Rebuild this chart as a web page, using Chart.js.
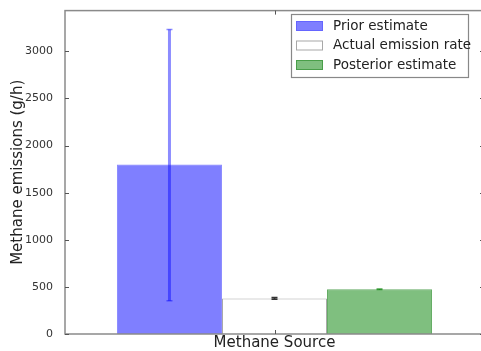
<!DOCTYPE html>
<html>
<head>
<meta charset="utf-8">
<script src="https://cdn.jsdelivr.net/npm/chart.js@4/dist/chart.umd.min.js"></script>
<style>
  html, body { margin: 0; padding: 0; background: #fff; overflow: hidden; }
  #chart { display: block; }
</style>
</head>
<body>
<canvas id="chart" width="484" height="351"></canvas>
<script>
const categories = ['Methane Source'];
const seriesNames = ['Prior estimate', 'Actual emission rate', 'Posterior estimate'];
const seriesValues = [[1800], [378], [475]];
const errLow = [[352], [368], [472]];
const errHigh = [[3232], [388], [478]];
const yTicks = [0, 500, 1000, 1500, 2000, 2500, 3000];

const fills = ['rgba(0,0,255,0.5)', '#ffffff', 'rgba(0,128,0,0.5)'];
const edges = ['rgba(90,90,255,0.7)', '#a8a8a8', 'rgba(60,150,60,0.8)'];
const errColors = ['rgba(0,0,255,0.45)', '#333333', 'rgba(0,128,0,0.7)'];
const font = 'DejaVu Sans';

const extras = {
    id: 'extras',
    afterDatasetsDraw(chart) {
        const { ctx, scales: { y } } = chart;
        ctx.save();
        chart.data.datasets.forEach((ds, i) => {
            const meta = chart.getDatasetMeta(i);
            meta.data.forEach((bar, j) => {
                const top = y.getPixelForValue(errHigh[i][j]);
                const bot = y.getPixelForValue(errLow[i][j]);
                ctx.strokeStyle = errColors[i];
                ctx.lineWidth = i === 0 ? 3 : 1.5;
                ctx.beginPath();
                ctx.moveTo(bar.x, top);
                ctx.lineTo(bar.x, bot);
                ctx.stroke();
                ctx.lineWidth = 1.5;
                ctx.beginPath();
                ctx.moveTo(bar.x - 3, top);
                ctx.lineTo(bar.x + 3, top);
                ctx.moveTo(bar.x - 3, bot);
                ctx.lineTo(bar.x + 3, bot);
                ctx.stroke();
            });
        });
        ctx.restore();
    },
    afterDraw(chart) {
        const { ctx, chartArea: a, scales: { x, y } } = chart;
        ctx.save();
        // frame
        ctx.strokeStyle = '#8a8a8a';
        ctx.lineWidth = 1.5;
        ctx.strokeRect(a.left, a.top, a.right - a.left, a.bottom - a.top);
        // inward ticks
        ctx.strokeStyle = '#555';
        ctx.lineWidth = 1;
        ctx.beginPath();
        y.ticks.forEach((t) => {
            const py = Math.round(y.getPixelForValue(t.value)) + 0.5;
            ctx.moveTo(a.left, py);
            ctx.lineTo(a.left + 4, py);
            ctx.moveTo(a.right, py);
            ctx.lineTo(a.right - 4, py);
        });
        categories.forEach((c, i) => {
            const px = Math.round(x.getPixelForValue(i)) + 0.5;
            ctx.moveTo(px, a.bottom);
            ctx.lineTo(px, a.bottom - 4);
            ctx.moveTo(px, a.top);
            ctx.lineTo(px, a.top + 4);
        });
        ctx.stroke();
        // legend
        const lx = 291, ly = 14, lw = 177, lh = 63;
        ctx.fillStyle = '#fff';
        ctx.fillRect(lx, ly, lw, lh);
        ctx.strokeStyle = '#888';
        ctx.lineWidth = 1.2;
        ctx.strokeRect(lx + 0.5, ly + 0.5, lw, lh);
        ctx.font = '13.5px "' + font + '"';
        ctx.textBaseline = 'middle';
        seriesNames.forEach((name, i) => {
            const cy = 26 + i * 19.5;
            ctx.fillStyle = fills[i];
            ctx.fillRect(296, cy - 5, 27, 10);
            ctx.strokeStyle = edges[i];
            ctx.lineWidth = 1;
            ctx.strokeRect(296.5, cy - 4.5, 26, 9);
            ctx.fillStyle = '#222';
            ctx.fillText(name, 333, cy);
        });
        ctx.restore();
    },
};

new Chart(document.getElementById('chart'), {
    type: 'bar',
    data: {
        labels: categories,
        datasets: seriesNames.map((name, i) => ({
            label: name,
            data: seriesValues[i],
            backgroundColor: fills[i],
            borderColor: edges[i],
            borderWidth: 1,
            borderSkipped: 'start',
            categoryPercentage: 0.752,
            barPercentage: 1.0,
        })),
    },
    options: {
        responsive: false,
        animation: false,
        devicePixelRatio: 1,
        layout: { padding: { top: 9, right: 0, left: 0, bottom: 0 } },
        plugins: {
            legend: { display: false },
            tooltip: { enabled: false },
        },
        scales: {
            x: {
                grid: { display: false },
                border: { display: false },
                ticks: { display: false },
                title: {
                    display: true,
                    text: 'Methane Source',
                    color: '#222',
                    font: { family: font, size: 15, lineHeight: '16px' },
                    padding: { top: 0, bottom: 0 },
                },
                afterFit(scale) { scale.height = 17; },
            },
            y: {
                min: 0,
                max: 3433,
                grid: { display: false },
                border: { display: false },
                ticks: {
                    color: '#333',
                    padding: 4,
                    font: { family: font, size: 11 },
                    callback: (v) => String(v),
                },
                afterBuildTicks(scale) {
                    scale.ticks = yTicks.map((v) => ({ value: v }));
                },
                title: {
                    display: true,
                    text: 'Methane emissions (g/h)',
                    color: '#222',
                    font: { family: font, size: 15, lineHeight: '18px' },
                    padding: { top: 9, bottom: 0 },
                },
                afterFit(scale) { scale.width = 65; },
            },
        },
    },
    plugins: [extras],
});
</script>
</body>
</html>
